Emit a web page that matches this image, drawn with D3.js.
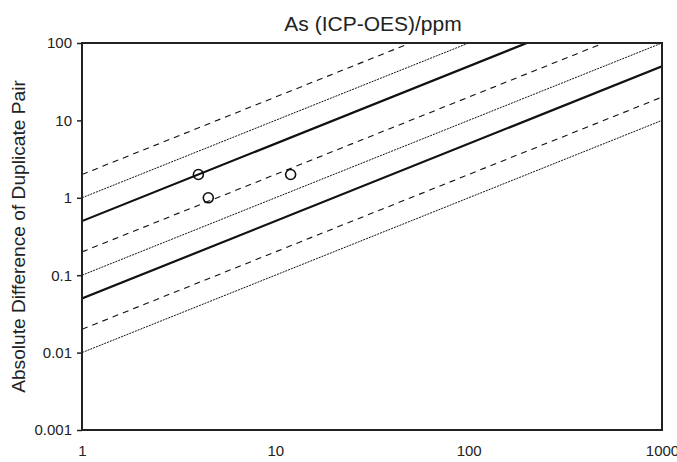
<!DOCTYPE html>
<html><head><meta charset="utf-8">
<script src="https://cdn.jsdelivr.net/npm/d3@7"></script>
<style>body{margin:0;background:#fff}</style>
</head><body>
<svg id="c" width="677" height="462"></svg>
<script>
const title = "As (ICP-OES)/ppm";
const yLabel = "Absolute Difference of Duplicate Pair";
const xTicks = [1, 10, 100, 1000];
const yTicks = [0.001, 0.01, 0.1, 1, 10, 100];
const yTickLabels = ["0.001", "0.01", "0.1", "1", "10", "100"];
// reference lines y = k * x
const lineFactors = [2, 1, 0.5, 0.2, 0.1, 0.05, 0.02, 0.01];
const lineStyles = ["dashed", "dotted", "solid", "dashed", "dotted", "solid", "dashed", "dotted"];
const pointsX = [4, 4.5, 12];
const pointsY = [2, 1, 2];

const svg = d3.select("#c");
const m = {l: 82, r: 662, t: 43, b: 430};
const x = d3.scaleLog().domain([1, 1000]).range([m.l, m.r]);
const y = d3.scaleLog().domain([0.001, 100]).range([m.b, m.t]);
const FONT = "Liberation Sans, Arial, sans-serif";

svg.append("defs").append("clipPath").attr("id", "clip")
  .append("rect").attr("x", m.l).attr("y", m.t).attr("width", m.r - m.l).attr("height", m.b - m.t);

const styleMap = {
  solid: {w: 2.2, dash: null},
  dashed: {w: 1.1, dash: "6,5"},
  dotted: {w: 1, dash: "2,1"}
};
const g = svg.append("g").attr("clip-path", "url(#clip)");
lineFactors.forEach((k, i) => {
  const s = styleMap[lineStyles[i]];
  const xs = [1, 1000];
  g.append("path")
    .attr("d", d3.line().x(d => x(d)).y(d => y(k * d))(xs))
    .attr("fill", "none").attr("stroke", "#111")
    .attr("stroke-width", s.w)
    .attr("stroke-dasharray", s.dash);
});

// frame
svg.append("rect").attr("x", m.l).attr("y", m.t).attr("width", m.r - m.l).attr("height", m.b - m.t)
  .attr("fill", "none").attr("stroke", "#222").attr("stroke-width", 2);

// y axis
const ya = svg.append("g").attr("transform", `translate(${m.l},0)`)
  .call(d3.axisLeft(y).tickValues(yTicks).tickFormat((d, i) => yTickLabels[i]).tickSize(5).tickPadding(5));
ya.select(".domain").remove();
ya.selectAll("line").attr("stroke", "#222").attr("stroke-width", 1.5);
ya.selectAll("text").attr("font-family", FONT).attr("font-size", 15).attr("fill", "#222");

// x axis
const xa = svg.append("g").attr("transform", `translate(0,${m.b})`)
  .call(d3.axisBottom(x).tickValues(xTicks).tickFormat(d3.format("d")).tickSize(0).tickPadding(15));
xa.select(".domain").remove();
xa.selectAll("text").attr("font-family", FONT).attr("font-size", 15).attr("fill", "#222");

// points
svg.append("g").selectAll("circle").data(pointsX).join("circle")
  .attr("cx", d => x(d)).attr("cy", (d, i) => y(pointsY[i])).attr("r", 5)
  .attr("fill", "none").attr("stroke", "#111").attr("stroke-width", 1.6);

// title
svg.append("text").attr("x", 373).attr("y", 31).attr("text-anchor", "middle")
  .attr("font-family", FONT).attr("font-size", 21).attr("fill", "#222").text(title);

// y label
const yl = svg.append("text").attr("transform", `translate(25,${(m.t + m.b) / 2}) rotate(-90)`).attr("text-anchor", "middle")
  .attr("font-family", FONT).attr("font-size", 17).attr("fill", "#222").text(yLabel);
const len = yl.node().getComputedTextLength();
if (len > 0) yl.attr("font-size", 17 * 313 / len);
</script>
</body></html>
